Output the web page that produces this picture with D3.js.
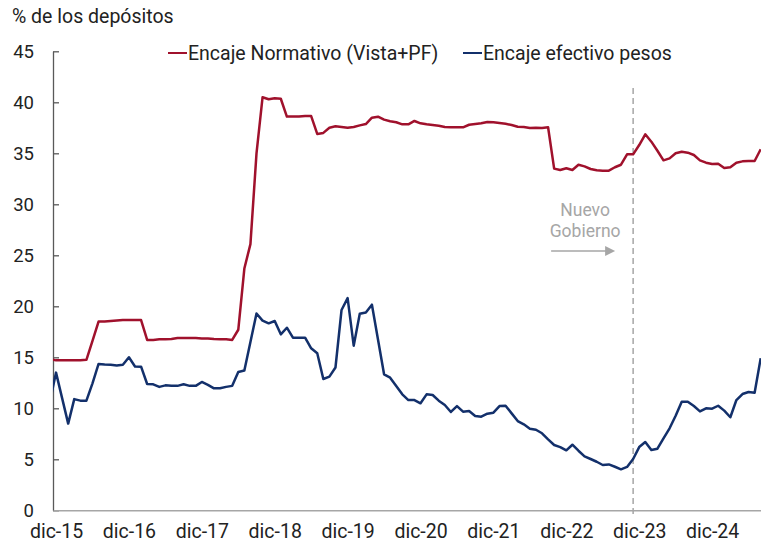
<!DOCTYPE html>
<html>
<head>
<meta charset="utf-8">
<script src="https://cdn.jsdelivr.net/npm/d3@7"></script>
<style>
  body { margin: 0; background: #fff; }
  svg { font-family: Roboto, "Noto Sans", sans-serif; }
</style>
</head>
<body>
<div id="chart"></div>
<script>
// monthly series, nov-15 .. ago-25
var monthNames = ["ene","feb","mar","abr","may","jun","jul","ago","sep","oct","nov","dic"];
var startYear = 2015, startMonth = 10; // nov-15

var encajeNormativo = [14.8,
  14.7, 14.7, 14.7, 14.7, 14.7, 14.75,
  16.6, 18.5, 18.5, 18.55, 18.6, 18.65, 18.65, 18.65, 18.65,
  16.7, 16.7, 16.76, 16.78, 16.8, 16.9, 16.9, 16.9, 16.9, 16.85, 16.85, 16.8, 16.78, 16.76, 16.7,
  17.7, 23.7, 26.1, 35.0, 40.5, 40.3, 40.4, 40.35,
  38.6, 38.6, 38.6, 38.65, 38.65,
  36.9, 37.0, 37.5, 37.65, 37.58, 37.5, 37.58, 37.74, 37.87, 38.49, 38.59, 38.3, 38.14, 38.04,
  37.84, 37.84, 38.17, 37.94, 37.84, 37.77, 37.7, 37.58, 37.55, 37.55, 37.55, 37.8, 37.87, 37.94,
  38.07, 38.04, 37.97, 37.9, 37.77, 37.6, 37.58, 37.48, 37.5, 37.48, 37.55,
  33.5, 33.36, 33.53, 33.36, 33.88, 33.72, 33.46, 33.33, 33.3, 33.3, 33.63, 33.88, 34.9, 34.9,
  35.81, 36.86, 36.14, 35.25, 34.31, 34.5, 35.0, 35.16, 35.06, 34.83, 34.31, 34.08, 33.95, 33.98,
  33.56, 33.63, 34.08, 34.21, 34.25, 34.25, 35.4];

var encajeEfectivo = [10.7,
  13.5, 11.0, 8.5, 10.9, 10.75, 10.75, 12.45, 14.35, 14.3, 14.27, 14.2, 14.27,
  15.0, 14.1, 14.08, 12.38, 12.35, 12.1, 12.25, 12.2, 12.2, 12.35, 12.2, 12.2,
  12.58, 12.3, 11.96, 11.96, 12.1, 12.2, 13.56, 13.7, 16.5, 19.3, 18.6, 18.33,
  18.56, 17.25, 17.9, 16.92, 16.92, 16.92, 15.88, 15.4, 12.87, 13.1, 14.0, 19.64,
  20.8, 16.14, 19.27, 19.4, 20.16, 16.75, 13.33, 13.0, 12.19, 11.37, 10.81, 10.81,
  10.49, 11.37, 11.3, 10.75, 10.32, 9.64, 10.22, 9.67, 9.73, 9.25, 9.18, 9.47,
  9.57, 10.22, 10.25, 9.5, 8.75, 8.43, 8.0, 7.9, 7.55, 6.96, 6.4, 6.2,
  5.88, 6.43, 5.84, 5.29, 5.03, 4.76, 4.44, 4.5, 4.27, 4.02, 4.25, 5.03,
  6.2, 6.7, 5.91, 6.04, 7.06, 8.04, 9.27, 10.65, 10.65, 10.22, 9.7, 10.0,
  9.96, 10.25, 9.77, 9.12, 10.81, 11.4, 11.6, 11.53, 14.9];

var xTickLabels = ["dic-15","dic-16","dic-17","dic-18","dic-19","dic-20","dic-21","dic-22","dic-23","dic-24"];
var yTicks = [0, 5, 10, 15, 20, 25, 30, 35, 40, 45];
var govMonth = "nov-23";

var months = encajeNormativo.map(function(d, i) {
    var m = (startMonth + i) % 12,
        yr = startYear + Math.floor((startMonth + i) / 12);
    return monthNames[m] + "-" + String(yr).slice(2);
});

var width = 761, height = 542,
    margin = {top: 51.3, right: 0.3, bottom: 31.7, left: 53},
    red = "#a0112c", blue = "#13306b", grey = "#a6a6a6";

var x = d3.scaleLinear()
    .domain([0.5, months.length - 1])
    .range([margin.left, width - margin.right]);
var y = d3.scaleLinear()
    .domain([0, 45])
    .range([height - margin.bottom, margin.top]);

var svg = d3.select("#chart").append("svg")
    .attr("width", width)
    .attr("height", height);

svg.append("defs").append("clipPath").attr("id", "plot")
    .append("rect")
    .attr("x", margin.left).attr("y", 0)
    .attr("width", width - margin.left).attr("height", height);

// title
svg.append("text")
    .attr("x", 12).attr("y", 23)
    .attr("font-size", 19.5).attr("fill", "#222")
    .text("% de los depósitos");

// y axis, ticks pointing inward
var yAxis = svg.append("g")
    .attr("transform", "translate(" + margin.left + ",0)")
    .call(d3.axisLeft(y).tickValues(yTicks).tickSizeInner(-6).tickSizeOuter(0).tickPadding(19));
yAxis.select(".domain").attr("stroke", "#595959").attr("stroke-width", 1.3);
yAxis.selectAll(".tick line").attr("stroke", "#595959").attr("stroke-width", 1.3);
yAxis.selectAll("text").attr("font-size", 18.5).attr("fill", "#222").attr("font-family", "Roboto");

// x axis
var xAxis = svg.append("g")
    .attr("transform", "translate(0," + y(0) + ")")
    .call(d3.axisBottom(x)
        .tickValues(xTickLabels.map(function(l) { return months.indexOf(l); }))
        .tickFormat(function(d) { return months[d]; })
        .tickSize(0).tickPadding(14));
xAxis.select(".domain").attr("stroke", grey).attr("stroke-width", 1.5);
xAxis.selectAll("text").attr("font-size", 19.5).attr("fill", "#222").attr("font-family", "Roboto");

// government change marker
var xGov = x(months.indexOf(govMonth));
svg.append("line")
    .attr("x1", xGov).attr("x2", xGov)
    .attr("y1", 88).attr("y2", 515)
    .attr("stroke", grey).attr("stroke-width", 1.5)
    .attr("stroke-dasharray", "6,4");

svg.append("text")
    .attr("x", xGov - 48).attr("y", 216)
    .attr("text-anchor", "middle").attr("font-size", 17.5).attr("fill", grey)
    .text("Nuevo");
svg.append("text")
    .attr("x", xGov - 48).attr("y", 237)
    .attr("text-anchor", "middle").attr("font-size", 17.5).attr("fill", grey)
    .text("Gobierno");
svg.append("line")
    .attr("x1", xGov - 82).attr("x2", xGov - 26)
    .attr("y1", 251).attr("y2", 251)
    .attr("stroke", grey).attr("stroke-width", 1.5);
svg.append("path")
    .attr("d", "M" + (xGov - 28) + ",246L" + (xGov - 18) + ",251L" + (xGov - 28) + ",256Z")
    .attr("fill", grey);

// lines
var line = d3.line()
    .x(function(d, i) { return x(i); })
    .y(function(d) { return y(d); });

var plot = svg.append("g").attr("clip-path", "url(#plot)");
plot.append("path")
    .datum(encajeEfectivo)
    .attr("fill", "none").attr("stroke", blue)
    .attr("stroke-width", 2.5).attr("stroke-linejoin", "round")
    .attr("d", line);
plot.append("path")
    .datum(encajeNormativo)
    .attr("fill", "none").attr("stroke", red)
    .attr("stroke-width", 2.5).attr("stroke-linejoin", "round")
    .attr("d", line);

// legend
var legend = [
    {name: "Encaje Normativo (Vista+PF)", color: red, x: 168},
    {name: "Encaje efectivo pesos", color: blue, x: 463}
];
var lg = svg.selectAll(".legend")
    .data(legend)
    .enter().append("g")
    .attr("class", "legend")
    .attr("transform", function(d) { return "translate(" + d.x + ",53)"; });
lg.append("line")
    .attr("x1", 0).attr("x2", 19)
    .attr("stroke", function(d) { return d.color; })
    .attr("stroke-width", 2);
lg.append("text")
    .attr("x", 20).attr("y", 7)
    .attr("font-size", 19.5).attr("fill", "#222")
    .text(function(d) { return d.name; });
</script>
</body>
</html>
